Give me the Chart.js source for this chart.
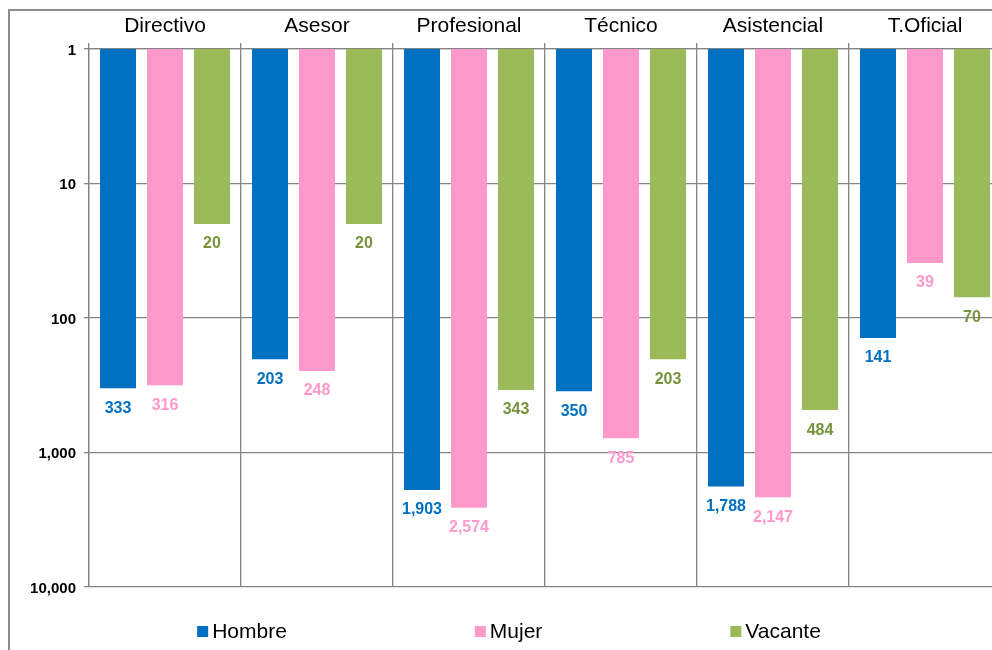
<!DOCTYPE html>
<html>
<head>
<meta charset="utf-8">
<script src="https://cdn.jsdelivr.net/npm/chart.js@4/dist/chart.umd.min.js"></script>
<style>
  html, body { margin: 0; padding: 0; overflow: hidden; background: #fff; }
  #wrap { width: 1020px; height: 660px; position: relative; }
</style>
</head>
<body>
<div id="wrap"><canvas id="c"></canvas></div>
<script>
const categories = ['Directivo', 'Asesor', 'Profesional', 'Técnico', 'Asistencial', 'T.Oficial'];
const seriesNames = ['Hombre', 'Mujer', 'Vacante'];
const hombre = [333, 203, 1903, 350, 1788, 141];
const mujer = [316, 248, 2574, 785, 2147, 39];
const vacante = [20, 20, 343, 203, 484, 70];
const yTickValues = [1, 10, 100, 1000, 10000];

const barColors = ['#0070C0', '#FF99CC', '#9BBB59'];
const labelColors = ['#0070C0', '#FF99CC', '#77933C'];
const FONT = "Arial, 'Liberation Sans', sans-serif";
const GRID = '#848484';

const frame = {
  id: 'frame',
  beforeDraw(chart) {
    const ctx = chart.ctx;
    ctx.save();
    ctx.fillStyle = '#fff';
    ctx.fillRect(0, 0, chart.width, chart.height);
    ctx.strokeStyle = '#8c8c8c';
    ctx.lineWidth = 2;
    ctx.strokeRect(9, 10, 1200, 1200);
    ctx.restore();
  }
};

const valueLabels = {
  id: 'valueLabels',
  afterDatasetsDraw(chart) {
    const ctx = chart.ctx;
    ctx.save();
    ctx.font = 'bold 16px ' + FONT;
    ctx.textAlign = 'center';
    ctx.textBaseline = 'middle';
    chart.data.datasets.forEach((ds, i) => {
      const meta = chart.getDatasetMeta(i);
      ctx.fillStyle = labelColors[i];
      meta.data.forEach((el, j) => {
        ctx.fillText(ds.data[j].toLocaleString('en-US'), el.x, el.y + 20);
      });
    });
    ctx.restore();
  }
};

const bottomLegend = {
  id: 'bottomLegend',
  afterDraw(chart) {
    const ctx = chart.ctx;
    ctx.save();
    ctx.font = '21px ' + FONT;
    const box = 11, textGap = 15, itemGap = 188, centerX = 509;
    const items = chart.data.datasets.map((ds, i) => ({
      text: ds.label, color: barColors[i],
      w: textGap + ctx.measureText(ds.label).width
    }));
    const total = items.reduce((s, it) => s + it.w, 0) + itemGap * (items.length - 1);
    let x = centerX - total / 2;
    ctx.textBaseline = 'alphabetic';
    ctx.textAlign = 'left';
    items.forEach(it => {
      ctx.fillStyle = it.color;
      ctx.fillRect(x, 626, box, box);
      ctx.fillStyle = '#000';
      ctx.fillText(it.text, x + textGap, 638);
      x += it.w + itemGap;
    });
    ctx.restore();
  }
};

new Chart(document.getElementById('c'), {
  type: 'bar',
  data: {
    labels: categories,
    datasets: [
      { label: seriesNames[0], data: hombre, backgroundColor: barColors[0] },
      { label: seriesNames[1], data: mujer, backgroundColor: barColors[1] },
      { label: seriesNames[2], data: vacante, backgroundColor: barColors[2] }
    ]
  },
  options: {
    responsive: true,
    maintainAspectRatio: false,
    animation: false,
    events: [],
    datasets: { bar: { categoryPercentage: 0.9276, barPercentage: 0.766 } },
    layout: { padding: { left: 0, top: 0, right: 19, bottom: 73 } },
    plugins: {
      legend: { display: false },
      tooltip: { enabled: false },
      title: { display: false }
    },
    scales: {
      x: {
        position: 'top',
        afterFit(s) { s.height = 49; },
        grid: { color: GRID, lineWidth: 1.3, tickLength: 6, offset: true },
        border: { color: GRID, width: 1.3 },
        ticks: { color: '#000', font: { family: FONT, size: 21 }, padding: 4, maxRotation: 0 }
      },
      y: {
        type: 'logarithmic',
        reverse: true,
        min: 1,
        max: 10000,
        afterFit(s) { s.width = 89; },
        afterBuildTicks(s) { s.ticks = yTickValues.map(v => ({ value: v })); },
        grid: { color: GRID, lineWidth: 1.3, tickLength: 5 },
        border: { color: GRID, width: 1.3 },
        ticks: {
          color: '#000',
          padding: 8,
          labelOffset: 1.5,
          font: { family: FONT, size: 15, weight: 'bold' },
          callback: (v) => Number(v).toLocaleString('en-US')
        }
      }
    }
  },
  plugins: [frame, valueLabels, bottomLegend]
});
</script>
</body>
</html>
